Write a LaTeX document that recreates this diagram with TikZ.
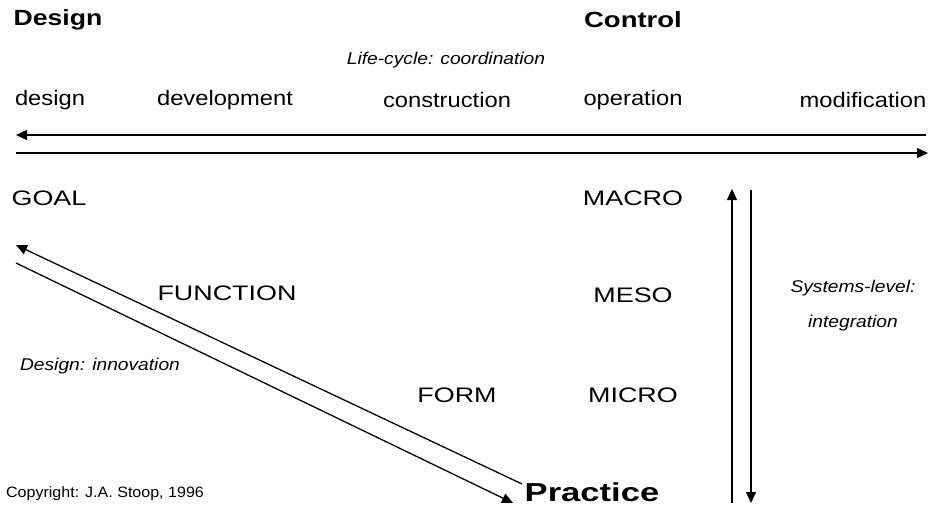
\documentclass[tikz,border=0pt]{standalone}
\usepackage{fontspec}
\setmainfont{Liberation Sans}
\usetikzlibrary{arrows.meta}
\begin{document}
\begin{tikzpicture}[x=1pt,y=-1pt,
  head/.style={font=\fontsize{22}{26}\selectfont\bfseries, inner sep=0pt},
  lab/.style={font=\fontsize{21}{25}\selectfont, inner sep=0pt},
  itl/.style={font=\fontsize{17}{20}\selectfont\itshape, inner sep=0pt},
  small/.style={font=\fontsize{15}{18}\selectfont, inner sep=0pt},
  arr/.style={line width=1.3pt, -{Triangle[length=11pt,width=10pt]}}]
\useasboundingbox (0,0) rectangle (931,508);
% headings
\node[head] (design) at (58,20) {\scalebox{1.21}[1]{Design}};
\node[head] (control) at (633,20) {\scalebox{1.25}[1]{Control}};
\node[head, font=\fontsize{26}{30}\selectfont\bfseries] (practice) at (592,492) {\scalebox{1.33}[1]{Practice}};
\node[itl] (life) at (446,60) {\scalebox{1.13}[1]{Life-cycle: coordination}};
% life-cycle phases
\node[lab] (p1) at (50,100) {\scalebox{1.13}[1]{design}};
\node[lab] (p2) at (225,100) {\scalebox{1.13}[1]{development}};
\node[lab] (p3) at (447,100) {\scalebox{1.13}[1]{construction}};
\node[lab] (p4) at (633,100) {\scalebox{1.13}[1]{operation}};
\node[lab] (p5) at (863,100) {\scalebox{1.13}[1]{modification}};
% levels
\node[lab] (goal) at (49,198) {\scalebox{1.28}[1]{GOAL}};
\node[lab] (func) at (227,293) {\scalebox{1.28}[1]{FUNCTION}};
\node[lab] (form) at (457,395) {\scalebox{1.28}[1]{FORM}};
\node[lab] (macro) at (633,198) {\scalebox{1.28}[1]{MACRO}};
\node[lab] (meso) at (633,295) {\scalebox{1.28}[1]{MESO}};
\node[lab] (micro) at (633,395) {\scalebox{1.28}[1]{MICRO}};
\node[itl] (sys1) at (853,288) {\scalebox{1.13}[1]{Systems-level:}};
\node[itl] (sys2) at (853,323) {\scalebox{1.13}[1]{integration}};
\node[itl] (innov) at (100,366) {\scalebox{1.13}[1]{Design: innovation}};
\node[small] (copy) at (105,494) {\scalebox{1.07}[1]{Copyright: J.A. Stoop, 1996}};
% arrow end points
\coordinate (tR) at (926,135); \coordinate (tL) at (16,135);
\coordinate (bL) at (16,153); \coordinate (bR) at (928,153);
\coordinate (dA) at (522,484); \coordinate (dB) at (16,245);
\coordinate (dC) at (16,263); \coordinate (dD) at (513,503);
\coordinate (vA) at (732,503); \coordinate (vB) at (732,189);
\coordinate (vC) at (751,190); \coordinate (vD) at (751,503);
\draw[arr] (tR) -- (tL);
\draw[arr] (bL) -- (bR);
\draw[arr] (dA) -- (dB);
\draw[arr] (dC) -- (dD);
\draw[arr] (vA) -- (vB);
\draw[arr] (vC) -- (vD);
\end{tikzpicture}
\end{document}
